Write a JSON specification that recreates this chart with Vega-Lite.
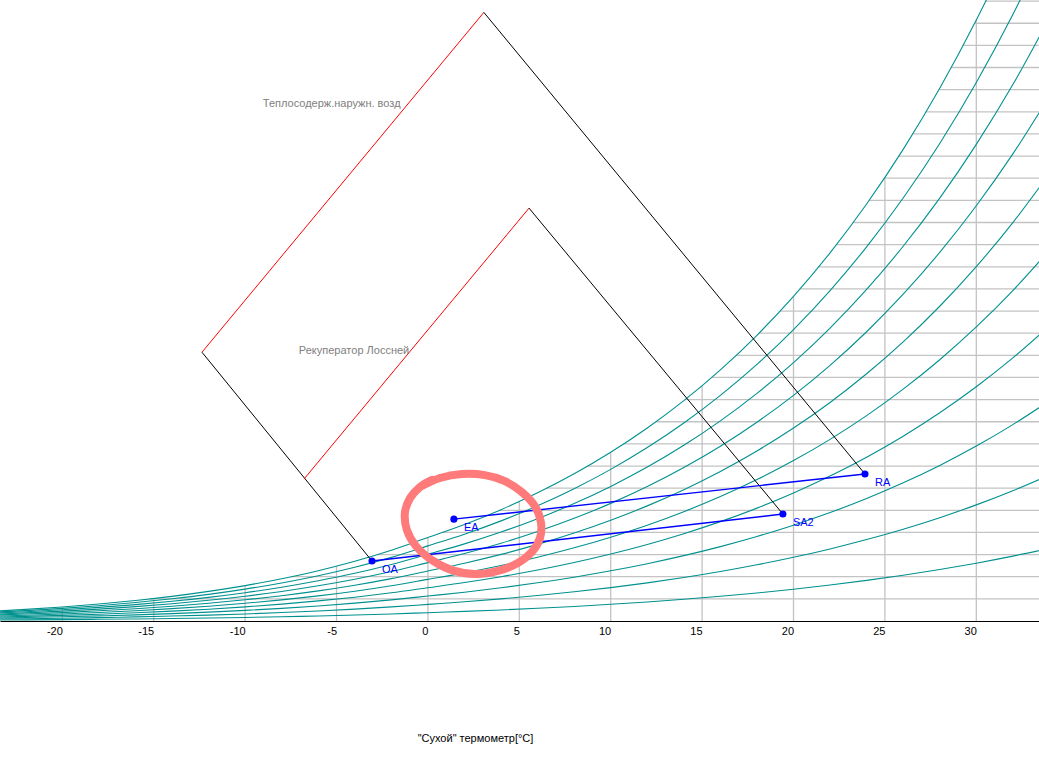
{
  "$schema": "https://vega.github.io/schema/vega-lite/v6.json",
  "width": 1039,
  "height": 621,
  "autosize": {"type": "none"},
  "padding": {"left": 0, "top": 0, "right": 0, "bottom": 163},
  "background": "white",
  "config": {"view": {"stroke": null}, "font": "Liberation Sans"},
  "datasets": {
    "vgrid": [
      {"t": -20, "ws": 0.634}, {"t": -15, "ws": 1.016}, {"t": -10, "ws": 1.599}, {"t": -5, "ws": 2.476},
      {"t": 0, "ws": 3.773}, {"t": 5, "ws": 5.397}, {"t": 10, "ws": 7.619}, {"t": 15, "ws": 10.627},
      {"t": 20, "ws": 14.662}, {"t": 25, "ws": 20.035}, {"t": 30, "ws": 27.143}
    ],
    "hgrid": [
      {"w": 1, "t0": -15.21}, {"w": 2, "t0": -7.5}, {"w": 3, "t0": -2.78}, {"w": 4, "t0": 0.77},
      {"w": 5, "t0": 3.91}, {"w": 6, "t0": 6.49}, {"w": 7, "t0": 8.73}, {"w": 8, "t0": 10.7},
      {"w": 9, "t0": 12.46}, {"w": 10, "t0": 14.07}, {"w": 11, "t0": 15.51}, {"w": 12, "t0": 16.84},
      {"w": 13, "t0": 18.11}, {"w": 14, "t0": 19.25}, {"w": 15, "t0": 20.34}, {"w": 16, "t0": 21.36},
      {"w": 17, "t0": 22.34}, {"w": 18, "t0": 23.24}, {"w": 19, "t0": 24.13}, {"w": 20, "t0": 24.94},
      {"w": 21, "t0": 25.75}, {"w": 22, "t0": 26.51}, {"w": 23, "t0": 27.23}, {"w": 24, "t0": 27.96},
      {"w": 25, "t0": 28.61}, {"w": 26, "t0": 29.26}, {"w": 27, "t0": 29.91}, {"w": 28, "t0": 30.5}
    ],
    "rh": [
      {"t": -24, "rh10": 0.043, "rh20": 0.086, "rh30": 0.129, "rh40": 0.172, "rh50": 0.215, "rh60": 0.258, "rh70": 0.300, "rh80": 0.343, "rh90": 0.386, "rh100": 0.429},
      {"t": -22, "rh10": 0.052, "rh20": 0.105, "rh30": 0.157, "rh40": 0.209, "rh50": 0.261, "rh60": 0.314, "rh70": 0.366, "rh80": 0.418, "rh90": 0.470, "rh100": 0.523},
      {"t": -20, "rh10": 0.063, "rh20": 0.127, "rh30": 0.190, "rh40": 0.254, "rh50": 0.317, "rh60": 0.380, "rh70": 0.444, "rh80": 0.507, "rh90": 0.571, "rh100": 0.634},
      {"t": -18, "rh10": 0.077, "rh20": 0.153, "rh30": 0.230, "rh40": 0.307, "rh50": 0.383, "rh60": 0.460, "rh70": 0.537, "rh80": 0.614, "rh90": 0.690, "rh100": 0.768},
      {"t": -16, "rh10": 0.092, "rh20": 0.185, "rh30": 0.278, "rh40": 0.370, "rh50": 0.463, "rh60": 0.555, "rh70": 0.648, "rh80": 0.740, "rh90": 0.833, "rh100": 0.926},
      {"t": -14, "rh10": 0.111, "rh20": 0.223, "rh30": 0.334, "rh40": 0.445, "rh50": 0.557, "rh60": 0.668, "rh70": 0.780, "rh80": 0.891, "rh90": 1.003, "rh100": 1.114},
      {"t": -12, "rh10": 0.133, "rh20": 0.267, "rh30": 0.400, "rh40": 0.534, "rh50": 0.668, "rh60": 0.801, "rh70": 0.935, "rh80": 1.069, "rh90": 1.203, "rh100": 1.337},
      {"t": -10, "rh10": 0.160, "rh20": 0.319, "rh30": 0.479, "rh40": 0.639, "rh50": 0.799, "rh60": 0.959, "rh70": 1.119, "rh80": 1.279, "rh90": 1.440, "rh100": 1.599},
      {"t": -8, "rh10": 0.190, "rh20": 0.381, "rh30": 0.571, "rh40": 0.762, "rh50": 0.953, "rh60": 1.144, "rh70": 1.335, "rh80": 1.526, "rh90": 1.718, "rh100": 1.909},
      {"t": -6, "rh10": 0.226, "rh20": 0.453, "rh30": 0.680, "rh40": 0.907, "rh50": 1.134, "rh60": 1.361, "rh70": 1.589, "rh80": 1.817, "rh90": 2.045, "rh100": 2.271},
      {"t": -4, "rh10": 0.269, "rh20": 0.538, "rh30": 0.807, "rh40": 1.076, "rh50": 1.346, "rh60": 1.616, "rh70": 1.886, "rh80": 2.156, "rh90": 2.427, "rh100": 2.697},
      {"t": -2, "rh10": 0.318, "rh20": 0.636, "rh30": 0.955, "rh40": 1.274, "rh50": 1.593, "rh60": 1.913, "rh70": 2.233, "rh80": 2.554, "rh90": 2.875, "rh100": 3.194},
      {"t": 0, "rh10": 0.376, "rh20": 0.751, "rh30": 1.127, "rh40": 1.504, "rh50": 1.881, "rh60": 2.258, "rh70": 2.636, "rh80": 3.015, "rh90": 3.394, "rh100": 3.773},
      {"t": 2, "rh10": 0.433, "rh20": 0.867, "rh30": 1.302, "rh40": 1.737, "rh50": 2.173, "rh60": 2.609, "rh70": 3.046, "rh80": 3.484, "rh90": 3.922, "rh100": 4.361},
      {"t": 4, "rh10": 0.499, "rh20": 0.999, "rh30": 1.500, "rh40": 2.002, "rh50": 2.505, "rh60": 3.008, "rh70": 3.512, "rh80": 4.017, "rh90": 4.523, "rh100": 5.029},
      {"t": 6, "rh10": 0.574, "rh20": 1.149, "rh30": 1.725, "rh40": 2.302, "rh50": 2.881, "rh60": 3.460, "rh70": 4.040, "rh80": 4.622, "rh90": 5.204, "rh100": 5.788},
      {"t": 8, "rh10": 0.658, "rh20": 1.318, "rh30": 1.979, "rh40": 2.642, "rh50": 3.306, "rh60": 3.971, "rh70": 4.638, "rh80": 5.306, "rh90": 5.976, "rh100": 6.647},
      {"t": 10, "rh10": 0.754, "rh20": 1.509, "rh30": 2.266, "rh40": 3.025, "rh50": 3.786, "rh60": 4.549, "rh70": 5.313, "rh80": 6.080, "rh90": 6.848, "rh100": 7.619},
      {"t": 12, "rh10": 0.861, "rh20": 1.724, "rh30": 2.589, "rh40": 3.457, "rh50": 4.327, "rh60": 5.200, "rh70": 6.075, "rh80": 6.953, "rh90": 7.833, "rh100": 8.715},
      {"t": 14, "rh10": 0.981, "rh20": 1.965, "rh30": 2.952, "rh40": 3.943, "rh50": 4.936, "rh60": 5.933, "rh70": 6.933, "rh80": 7.936, "rh90": 8.942, "rh100": 9.951},
      {"t": 16, "rh10": 1.116, "rh20": 2.236, "rh30": 3.360, "rh40": 4.488, "rh50": 5.620, "rh60": 6.756, "rh70": 7.896, "rh80": 9.041, "rh90": 10.190, "rh100": 11.342},
      {"t": 18, "rh10": 1.267, "rh20": 2.539, "rh30": 3.816, "rh40": 5.099, "rh50": 6.387, "rh60": 7.680, "rh70": 8.978, "rh80": 10.282, "rh90": 11.591, "rh100": 12.906},
      {"t": 20, "rh10": 1.436, "rh20": 2.878, "rh30": 4.327, "rh40": 5.783, "rh50": 7.246, "rh60": 8.715, "rh70": 10.191, "rh80": 11.674, "rh90": 13.165, "rh100": 14.662},
      {"t": 22, "rh10": 1.624, "rh20": 3.256, "rh30": 4.897, "rh40": 6.547, "rh50": 8.205, "rh60": 9.872, "rh70": 11.548, "rh80": 13.232, "rh90": 14.926, "rh100": 16.629},
      {"t": 24, "rh10": 1.834, "rh20": 3.678, "rh30": 5.533, "rh40": 7.400, "rh50": 9.277, "rh60": 11.166, "rh70": 13.066, "rh80": 14.977, "rh90": 16.901, "rh100": 18.835},
      {"t": 26, "rh10": 2.067, "rh20": 4.147, "rh30": 6.241, "rh40": 8.349, "rh50": 10.472, "rh60": 12.609, "rh70": 14.760, "rh80": 16.926, "rh90": 19.107, "rh100": 21.303},
      {"t": 28, "rh10": 2.325, "rh20": 4.668, "rh30": 7.028, "rh40": 9.406, "rh50": 11.802, "rh60": 14.217, "rh70": 16.649, "rh80": 19.101, "rh90": 21.571, "rh100": 24.061},
      {"t": 30, "rh10": 2.612, "rh20": 5.246, "rh30": 7.902, "rh40": 10.580, "rh50": 13.282, "rh60": 16.007, "rh70": 18.755, "rh80": 21.527, "rh90": 24.323, "rh100": 27.143},
      {"t": 32, "rh10": 2.929, "rh20": 5.886, "rh30": 8.870, "rh40": 11.883, "rh50": 14.926, "rh60": 17.997, "rh70": 21.098, "rh80": 24.230, "rh90": 27.392, "rh100": 30.585},
      {"t": 34, "rh10": 3.279, "rh20": 6.594, "rh30": 9.943, "rh40": 13.328, "rh50": 16.750, "rh60": 20.209, "rh70": 23.706, "rh80": 27.240, "rh90": 30.814, "rh100": 34.427}
    ],
    "diagram": [
      {"seg": "s1", "kind": "process", "ord": 0, "t": -3.06, "w": 2.71},
      {"seg": "s1", "kind": "process", "ord": 1, "t": -12.36, "w": 12.14},
      {"seg": "s2", "kind": "enthalpy", "ord": 0, "t": -12.36, "w": 12.14},
      {"seg": "s2", "kind": "enthalpy", "ord": 1, "t": 3.06, "w": 27.49},
      {"seg": "s3", "kind": "process", "ord": 0, "t": 3.06, "w": 27.49},
      {"seg": "s3", "kind": "process", "ord": 1, "t": 23.91, "w": 6.64},
      {"seg": "s4", "kind": "enthalpy", "ord": 0, "t": -6.78, "w": 6.41},
      {"seg": "s4", "kind": "enthalpy", "ord": 1, "t": 5.53, "w": 18.65},
      {"seg": "s5", "kind": "process", "ord": 0, "t": 5.53, "w": 18.65},
      {"seg": "s5", "kind": "process", "ord": 1, "t": 19.42, "w": 4.83}
    ],
    "statelines": [
      {"pair": "a", "t": -3.06, "w": 2.71},
      {"pair": "a", "t": 19.42, "w": 4.83},
      {"pair": "b", "t": 1.42, "w": 4.60},
      {"pair": "b", "t": 23.91, "w": 6.64}
    ],
    "states": [
      {"state": "OA", "t": -3.06, "w": 2.71},
      {"state": "EA", "t": 1.42, "w": 4.60},
      {"state": "SA2", "t": 19.42, "w": 4.83},
      {"state": "RA", "t": 23.91, "w": 6.64}
    ],
    "notes": [
      {"label": "Теплосодерж.наружн. возд", "t": -9.03, "w": 23.34},
      {"label": "Рекуператор Лоссней", "t": -7.06, "w": 12.19}
    ],
    "loop": [
      {"ord": 0, "t": -0.44, "w": 6.05}, {"ord": 1, "t": 0.66, "w": 6.46}, {"ord": 2, "t": 1.86, "w": 6.64},
      {"ord": 3, "t": 3.12, "w": 6.59}, {"ord": 4, "t": 4.21, "w": 6.32}, {"ord": 5, "t": 5.14, "w": 5.82},
      {"ord": 6, "t": 5.85, "w": 5.19}, {"ord": 7, "t": 6.18, "w": 4.47}, {"ord": 8, "t": 6.13, "w": 3.75},
      {"ord": 9, "t": 5.69, "w": 3.12}, {"ord": 10, "t": 4.92, "w": 2.62}, {"ord": 11, "t": 3.83, "w": 2.26},
      {"ord": 12, "t": 2.57, "w": 2.12}, {"ord": 13, "t": 1.31, "w": 2.30}, {"ord": 14, "t": 0.22, "w": 2.75},
      {"ord": 15, "t": -0.66, "w": 3.39}, {"ord": 16, "t": -1.15, "w": 4.11}, {"ord": 17, "t": -1.26, "w": 4.88},
      {"ord": 18, "t": -0.98, "w": 5.55}, {"ord": 19, "t": -0.44, "w": 6.05}, {"ord": 20, "t": 0.22, "w": 6.37}
    ]
  },
  "layer": [
    {
      "data": {"name": "vgrid"},
      "mark": {"type": "rule", "color": "#c3c3c3", "strokeWidth": 1.3},
      "encoding": {
        "x": {"field": "t", "type": "quantitative",
          "scale": {"domain": [-23.41, 33.43], "nice": false, "zero": false},
          "axis": {"values": [-20, -15, -10, -5, 0, 5, 10, 15, 20, 25, 30], "grid": false, "ticks": false,
            "labelExpr": "'' + datum.value",
            "domainColor": "#000000", "domainWidth": 1, "labelAlign": "right", "labelFontSize": 11,
            "labelColor": "#000000", "labelPadding": 4, "labelFont": "Liberation Sans", "labelFlush": false,
            "labelOverlap": false, "title": "\"Сухой\" термометр[°C]", "titleFont": "Liberation Sans",
            "titleFontSize": 11, "titleFontWeight": "normal", "titleColor": "#000000", "titleX": 475,
            "titleY": 117, "titleBaseline": "middle", "titleAlign": "center"}},
        "y": {"field": "ws", "type": "quantitative", "scale": {"domain": [0, 28.05], "nice": false, "zero": false}, "axis": null},
        "y2": {"datum": 0}
      }
    },
    {
      "data": {"name": "hgrid"},
      "mark": {"type": "rule", "color": "#c3c3c3", "strokeWidth": 1.3, "clip": true},
      "encoding": {
        "x": {"field": "t0", "type": "quantitative", "scale": {"domain": [-23.41, 33.43], "nice": false, "zero": false}},
        "x2": {"datum": 34},
        "y": {"field": "w", "type": "quantitative", "scale": {"domain": [0, 28.05], "nice": false, "zero": false}, "axis": null}
      }
    },
    {
      "data": {"name": "rh"},
      "transform": [{"fold": ["rh10", "rh20", "rh30", "rh40", "rh50", "rh60", "rh70", "rh80", "rh90", "rh100"], "as": ["curve", "w"]}],
      "mark": {"type": "line", "color": "#00918f", "strokeWidth": 1.1, "clip": true, "interpolate": "monotone"},
      "encoding": {
        "x": {"field": "t", "type": "quantitative", "scale": {"domain": [-23.41, 33.43], "nice": false, "zero": false}},
        "y": {"field": "w", "type": "quantitative", "scale": {"domain": [0, 28.05], "nice": false, "zero": false}, "axis": null},
        "detail": {"field": "curve", "type": "nominal"}
      }
    },
    {
      "data": {"name": "diagram"},
      "mark": {"type": "line", "strokeWidth": 1, "clip": true},
      "encoding": {
        "x": {"field": "t", "type": "quantitative", "scale": {"domain": [-23.41, 33.43], "nice": false, "zero": false}},
        "y": {"field": "w", "type": "quantitative", "scale": {"domain": [0, 28.05], "nice": false, "zero": false}, "axis": null},
        "color": {"field": "kind", "type": "nominal", "scale": {"domain": ["enthalpy", "process"], "range": ["#ff0000", "#000000"]}, "legend": null},
        "detail": {"field": "seg", "type": "nominal"},
        "order": {"field": "ord", "type": "quantitative"}
      }
    },
    {
      "data": {"name": "statelines"},
      "mark": {"type": "line", "color": "#0000ff", "strokeWidth": 1.4},
      "encoding": {
        "x": {"field": "t", "type": "quantitative", "scale": {"domain": [-23.41, 33.43], "nice": false, "zero": false}},
        "y": {"field": "w", "type": "quantitative", "scale": {"domain": [0, 28.05], "nice": false, "zero": false}, "axis": null},
        "detail": {"field": "pair", "type": "nominal"}
      }
    },
    {
      "data": {"name": "states"},
      "mark": {"type": "point", "shape": "circle", "filled": true, "size": 50, "color": "#0000ff", "opacity": 1},
      "encoding": {
        "x": {"field": "t", "type": "quantitative", "scale": {"domain": [-23.41, 33.43], "nice": false, "zero": false}},
        "y": {"field": "w", "type": "quantitative", "scale": {"domain": [0, 28.05], "nice": false, "zero": false}, "axis": null}
      }
    },
    {
      "data": {"name": "states"},
      "mark": {"type": "text", "align": "left", "baseline": "middle", "dx": 10, "dy": 9, "fontSize": 11, "font": "Liberation Sans", "color": "#0000ff"},
      "encoding": {
        "x": {"field": "t", "type": "quantitative", "scale": {"domain": [-23.41, 33.43], "nice": false, "zero": false}},
        "y": {"field": "w", "type": "quantitative", "scale": {"domain": [0, 28.05], "nice": false, "zero": false}, "axis": null},
        "text": {"field": "state", "type": "nominal"}
      }
    },
    {
      "data": {"name": "notes"},
      "mark": {"type": "text", "align": "left", "baseline": "middle", "fontSize": 11, "font": "Liberation Sans", "color": "#808080"},
      "encoding": {
        "x": {"field": "t", "type": "quantitative", "scale": {"domain": [-23.41, 33.43], "nice": false, "zero": false}},
        "y": {"field": "w", "type": "quantitative", "scale": {"domain": [0, 28.05], "nice": false, "zero": false}, "axis": null},
        "text": {"field": "label", "type": "nominal"}
      }
    },
    {
      "data": {"name": "loop"},
      "mark": {"type": "line", "color": "#ff7a7a", "strokeWidth": 8, "interpolate": "cardinal", "strokeCap": "round", "strokeJoin": "round"},
      "encoding": {
        "x": {"field": "t", "type": "quantitative", "scale": {"domain": [-23.41, 33.43], "nice": false, "zero": false}},
        "y": {"field": "w", "type": "quantitative", "scale": {"domain": [0, 28.05], "nice": false, "zero": false}, "axis": null},
        "order": {"field": "ord", "type": "quantitative"}
      }
    }
  ]
}
